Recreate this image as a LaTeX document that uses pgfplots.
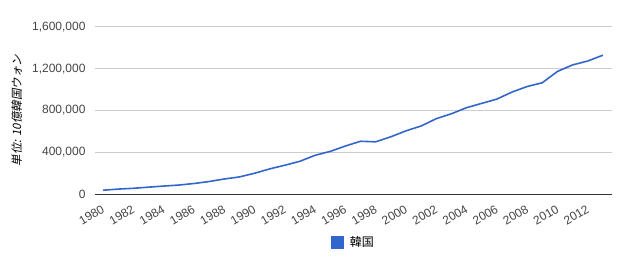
\documentclass[border=0pt]{standalone}
\usepackage{pgfplots}
\pgfplotsset{compat=1.18}
\usepackage{fontspec}
\setmainfont{Liberation Sans}
\newfontfamily\cjk{Noto Sans CJK JP}
\newfontfamily\cjkit[FakeSlant=0.2]{Noto Sans CJK JP}
\definecolor{gline}{HTML}{3366CC}
\definecolor{gridc}{HTML}{CCCCCC}
\definecolor{tickc}{HTML}{444444}
\begin{document}
\begin{tikzpicture}
\path[use as bounding box] (0pt,0pt) rectangle (630pt,260pt);
\begin{axis}[
  at={(95pt,65.7pt)}, anchor=south west,
  scale only axis, width=517pt, height=167.6pt,
  xmin=1979.47, xmax=2013.6,
  ymin=0, ymax=1600000,
  ytick={0,400000,800000,1200000,1600000},
  xtick={1980,1982,...,2012},
  scaled y ticks=false,
  /pgf/number format/assume math mode=true,
  yticklabel style={/pgf/number format/fixed, /pgf/number format/1000 sep={,}, anchor=east, xshift=-6pt},
  xticklabel style={/pgf/number format/1000 sep={}, inner sep=0pt, xshift=-2pt, yshift=-10pt, rotate=30, anchor=north east},
  ymajorgrids, grid style={gridc, line width=0.8pt},
  axis line style={draw=none},
  tick style={draw=none},
  ticklabel style={font=\fontsize{12}{14}\selectfont, text=tickc},
  ylabel={\cjkit 単位: 10億韓国ウォン},
  ylabel style={font=\fontsize{11.5}{13}\selectfont, text=black, at={(axis description cs:-0.151,0.5)}, anchor=center},
  legend style={at={(0.5,-0.287)}, anchor=center, draw=none, font=\cjk\fontsize{12}{14}\selectfont, inner sep=0pt, column sep=4pt},
  legend image code/.code={\fill[gline] (0pt,-5.5pt) rectangle (11pt,5.5pt);},
  clip=false,
]
\addplot[gline, line width=1.6pt] coordinates {
(1980,39109) (1981,49670) (1982,57287) (1983,68080) (1984,78591)
(1985,88130) (1986,102986) (1987,121698) (1988,145995) (1989,165802)
(1990,200556) (1991,242481) (1992,277541) (1993,315181) (1994,372493)
(1995,409654) (1996,460953) (1997,506314) (1998,501027) (1999,549005)
(2000,606000) (2001,652000) (2002,722000) (2003,769000) (2004,827000)
(2005,868000) (2006,909000) (2007,976000) (2008,1029000) (2009,1065037)
(2010,1173275) (2011,1235161) (2012,1272460) (2013,1328000)
};
\addlegendentry{韓国}
\draw[color=black!80, line width=0.9pt] (axis cs:1979.47,0) -- (axis cs:2013.6,0);
\end{axis}
\end{tikzpicture}
\end{document}
